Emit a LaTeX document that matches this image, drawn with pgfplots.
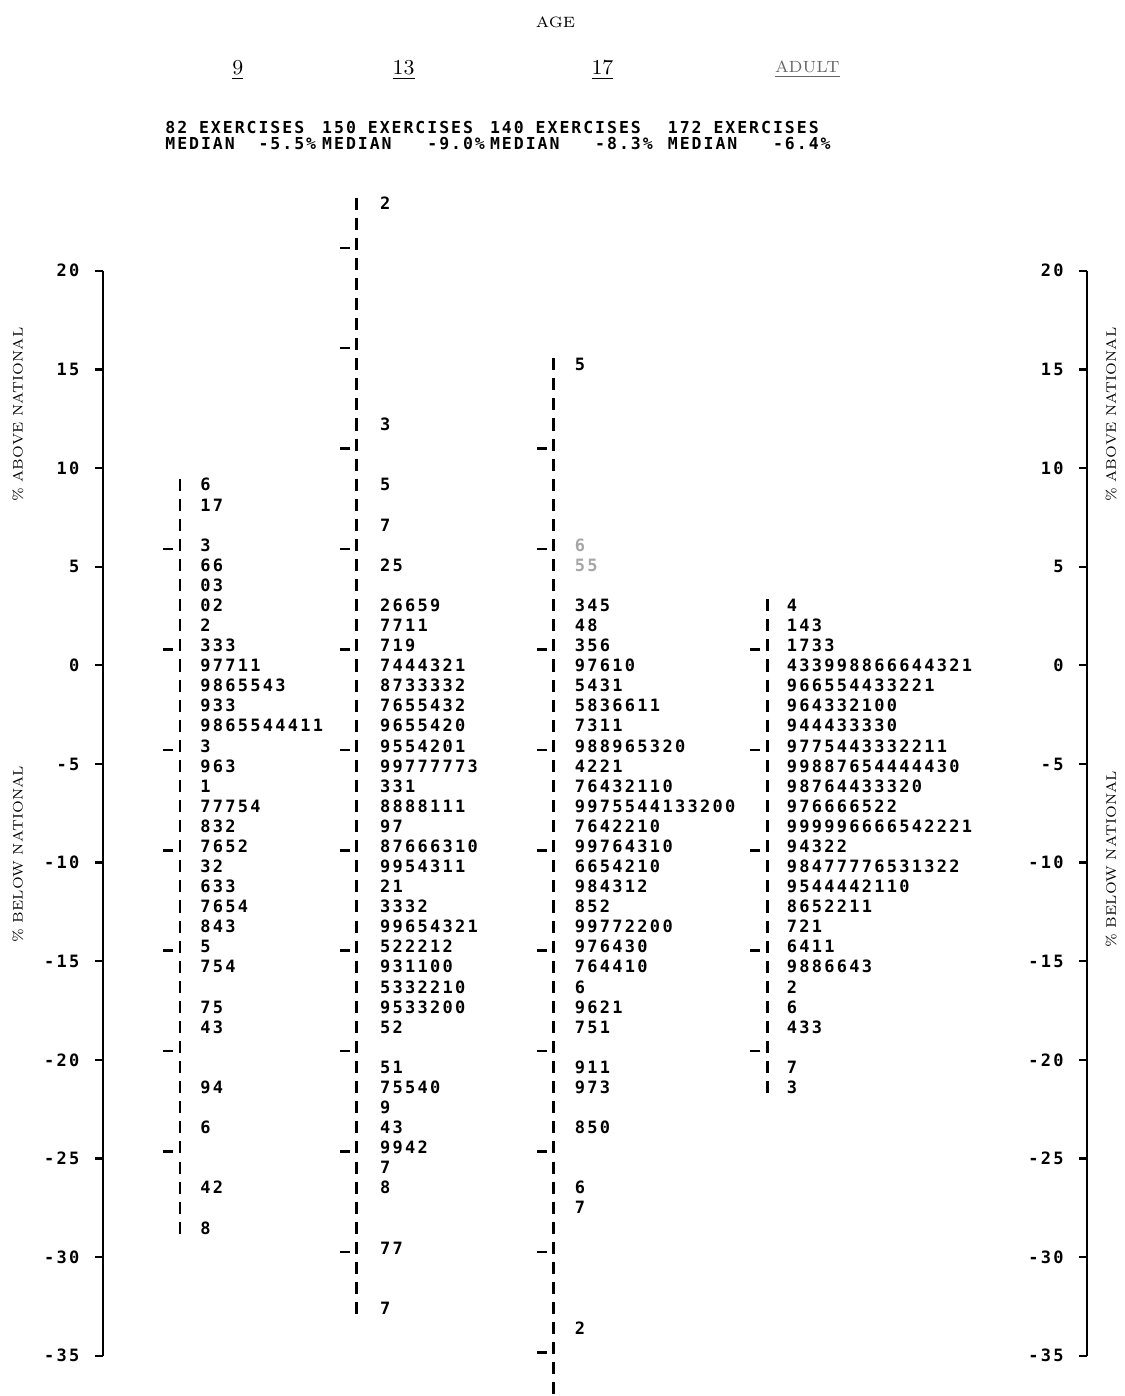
\documentclass[border=0pt]{standalone}
\usepackage{fontspec}
\usepackage{pgfplots}
\usepackage{pgfplotstable}
\pgfplotsset{compat=1.18}
\newfontfamily\dm[LetterSpace=13.4]{DejaVu Sans Mono}
\newfontfamily\dmh[LetterSpace=12]{DejaVu Sans Mono}
\newcommand\leaf{\dm\bfseries\fontsize{6.8}{7}\selectfont}
\newcommand\hdr{\dmh\bfseries\fontsize{6.6}{7}\selectfont}
\newcommand\lab{\fontsize{5.5}{6}\selectfont}

\pgfplotstableread{
y leaf
8 6
7 17
5 3
4 66
3 03
2 02
1 2
0 333
-1 97711
-2 9865543
-3 933
-4 9865544411
-5 3
-6 963
-7 1
-8 77754
-9 832
-10 7652
-11 32
-12 633
-13 7654
-14 843
-15 5
-16 754
-18 75
-19 43
-22 94
-24 6
-27 42
-29 8
}\colA

\pgfplotstableread{
y leaf
22 2
11 3
8 5
6 7
4 25
2 26659
1 7711
0 719
-1 7444321
-2 8733332
-3 7655432
-4 9655420
-5 9554201
-6 99777773
-7 331
-8 8888111
-9 97
-10 87666310
-11 9954311
-12 21
-13 3332
-14 99654321
-15 522212
-16 931100
-17 5332210
-18 9533200
-19 52
-21 51
-22 75540
-23 9
-24 43
-25 9942
-26 7
-27 8
-30 77
-33 7
}\colB

\pgfplotstableread{
y leaf
14 5
2 345
1 48
0 356
-1 97610
-2 5431
-3 5836611
-4 7311
-5 988965320
-6 4221
-7 76432110
-8 9975544133200
-9 7642210
-10 99764310
-11 6654210
-12 984312
-13 852
-14 99772200
-15 976430
-16 764410
-17 6
-18 9621
-19 751
-21 911
-22 973
-24 850
-27 6
-28 7
-34 2
}\colC

\pgfplotstableread{
y leaf
5 6
4 55
}\colCfaint

\pgfplotstableread{
y leaf
2 4
1 143
0 1733
-1 433998866644321
-2 966554433221
-3 964332100
-4 944433330
-5 9775443332211
-6 99887654444430
-7 98764433320
-8 976666522
-9 999996666542221
-10 94322
-11 98477776531322
-12 9544442110
-13 8652211
-14 721
-15 6411
-16 9886643
-17 2
-18 6
-19 433
-21 7
-22 3
}\colD

\pgfplotsset{
  leaves/.style={only marks, mark=*, mark size=0.1pt,
    mark options={draw=none, fill=none, draw opacity=0, fill opacity=0},
    point meta=explicit symbolic, nodes near coords,
    every node near coord/.append style={anchor=west, inner sep=0pt, font=\leaf, text=#1, text opacity=1}},
  leaves/.default=black,
  stem/.style={black, line width=1pt, dash pattern=on 4.82pt off 3.22pt, dash phase=6.44pt},
  stemtick/.style={only marks, mark=-, mark size=2pt, mark options={line width=1pt, black}},
  scaleaxis/.style={anchor=south west, scale only axis, width=1pt, height=434.4pt,
    xmin=0, xmax=1, ymin=-35, ymax=20, axis x line=none, axis y line=left,
    axis line style={-, line width=0.8pt, black},
    ytick={-35,-30,-25,-20,-15,-10,-5,0,5,10,15,20},
    yticklabels={-35,-30,-25,-20,-15,-10,-5,0,5,10,15,20},
    tick align=outside, major tick length=3.2pt,
    tick style={line width=0.9pt, black},
    yticklabel style={font=\leaf, inner sep=0pt, xshift=-6pt}}
}

\begin{document}
\begin{tikzpicture}
\begin{axis}[at={(0,0)}, anchor=south west, scale only axis, width=450pt, height=558.4pt,
  xmin=0, xmax=1125, ymin=-37.31, ymax=32.14, hide axis, clip=false]
\addplot[draw=none] coordinates {(0,-37.31) (1125,32.14)};
% stems
\addplot[stem] coordinates {(180,8.5) (180,-29.5)};
\addplot[stem] coordinates {(357,22.5) (357,-33.5)};
\addplot[stem] coordinates {(554,14.5) (554,-37.31)};
\addplot[stem] coordinates {(768,2.5) (768,-22.5)};
% stem ticks
\addplot[stemtick] coordinates {(168,4.8) (168,-0.2) (168,-5.2) (168,-10.2) (168,-15.2) (168,-20.2) (168,-25.2)};
\addplot[stemtick] coordinates {(345,19.8) (345,14.8) (345,9.8) (345,4.8) (345,-0.2) (345,-5.2) (345,-10.2) (345,-15.2) (345,-20.2) (345,-25.2) (345,-30.2)};
\addplot[stemtick] coordinates {(542,9.8) (542,4.8) (542,-0.2) (542,-5.2) (542,-10.2) (542,-15.2) (542,-20.2) (542,-25.2) (542,-30.2) (542,-35.2)};
\addplot[stemtick] coordinates {(756,-0.2) (756,-5.2) (756,-10.2) (756,-15.2) (756,-20.2)};
% leaves
\addplot[leaves] table[x expr=200, y=y, meta=leaf] {\colA};
\addplot[leaves] table[x expr=380, y=y, meta=leaf] {\colB};
\addplot[leaves] table[x expr=575, y=y, meta=leaf] {\colC};
\addplot[leaves=black!35] table[x expr=575, y=y, meta=leaf] {\colCfaint};
\addplot[leaves] table[x expr=787, y=y, meta=leaf] {\colD};
% titles
\node[font=\fontsize{6}{7}\selectfont] at (axis cs:556,31.04) {AGE};
\node[font=\fontsize{8.5}{9}\selectfont] at (axis cs:238,28.66) {\underline{9}};
\node[font=\fontsize{8.5}{9}\selectfont] at (axis cs:404,28.66) {\underline{13}};
\node[font=\fontsize{8.5}{9}\selectfont] at (axis cs:603,28.66) {\underline{17}};
\node[font=\fontsize{6.5}{7}\selectfont, text=black!60] at (axis cs:808,28.66) {\underline{ADULT}};
\node[font=\hdr, anchor=west, inner sep=0pt] at (axis cs:165,25.77) {82 EXERCISES};
\node[font=\hdr, anchor=west, inner sep=0pt] at (axis cs:322,25.77) {150 EXERCISES};
\node[font=\hdr, anchor=west, inner sep=0pt] at (axis cs:490,25.77) {140 EXERCISES};
\node[font=\hdr, anchor=west, inner sep=0pt] at (axis cs:668,25.77) {172 EXERCISES};
\node[font=\hdr, anchor=west, inner sep=0pt] at (axis cs:165,25.0) {MEDIAN\ \ -5.5\%};
\node[font=\hdr, anchor=west, inner sep=0pt] at (axis cs:322,25.0) {MEDIAN\ \ \ -9.0\%};
\node[font=\hdr, anchor=west, inner sep=0pt] at (axis cs:490,25.0) {MEDIAN\ \ \ -8.3\%};
\node[font=\hdr, anchor=west, inner sep=0pt] at (axis cs:668,25.0) {MEDIAN\ \ \ -6.4\%};
% side labels
\node[rotate=90, font=\lab] at (axis cs:18,11.49) {\% ABOVE NATIONAL};
\node[rotate=90, font=\lab] at (axis cs:18,-10.4) {\% BELOW NATIONAL};
\node[rotate=90, font=\lab] at (axis cs:1112,11.49) {\% ABOVE NATIONAL};
\node[rotate=90, font=\lab] at (axis cs:1112,-10.65) {\% BELOW NATIONAL};
\end{axis}
\begin{axis}[scaleaxis, at={(41.2pt,15.6pt)}]
\addplot[draw=none] coordinates {(0,0)};
\end{axis}
\begin{axis}[scaleaxis, at={(435.2pt,15.6pt)}]
\addplot[draw=none] coordinates {(0,0)};
\end{axis}
\end{tikzpicture}
\end{document}
